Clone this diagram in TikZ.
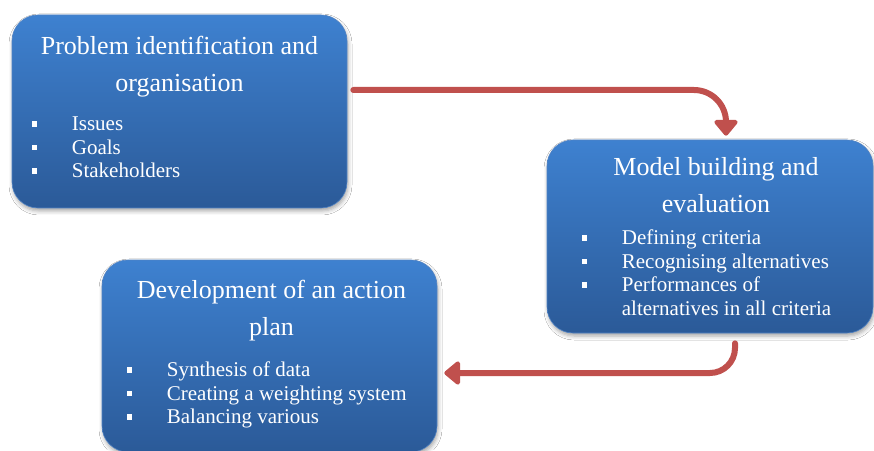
\documentclass[tikz,border=0pt]{standalone}
\usepackage{fontspec}
\setmainfont{Liberation Serif}
\usepackage{tikz}
\usetikzlibrary{arrows.meta, positioning, shadows.blur}

\definecolor{boxtop}{RGB}{62,129,208}
\definecolor{boxbottom}{RGB}{43,90,152}
\definecolor{boxedge}{RGB}{80,130,195}
\definecolor{flowred}{RGB}{192,80,77}

\newcommand{\sqbullet}{\raisebox{4pt}{\rule{5.5pt}{5.5pt}}}

\begin{document}
\begin{tikzpicture}[
        x=1pt, y=1pt,
        stage/.style={rectangle, rounded corners=26pt, draw=boxedge, line width=0.6pt, top color=boxtop, bottom color=boxbottom, minimum height=193pt, blur shadow={shadow xshift=1pt, shadow yshift=-3pt, shadow blur radius=4pt, shadow opacity=35}},
        title/.style={text=white, align=center, inner sep=0pt, font=\fontsize{26}{37}\selectfont},
        items/.style={text=white, inner sep=0pt, anchor=base west, font=\fontsize{21}{23.5}\selectfont},
        flow/.style={draw=flowred, line width=6pt, line cap=round, -{Triangle[width=27pt, length=17pt, round]}}
    ]
    \path[use as bounding box, fill=white] (0,0) rectangle (874,450);

    \node[stage, minimum width=335pt] (prob) at (179.5,338.5) {};
    \node[stage, minimum width=326pt] (model) at (710,213.5) {};
    \node[stage, minimum width=335pt, minimum height=192pt] (plan) at (269.5,94) {};

    \node[title, below=21pt of prob.north] (probT) {Problem identification and\\organisation};
    \node[items] (probL) at ([shift={(20,-116)}]prob.north west) {\begin{tabular}[t]{@{}p{40pt}@{}l@{}}
        \sqbullet & Issues\\
        \sqbullet & Goals\\
        \sqbullet & Stakeholders
    \end{tabular}};

    \node[title, below=18pt of model.north, xshift=6pt] (modelT) {Model building and\\evaluation};
    \node[items] (modelL) at ([shift={(35,-105)}]model.north west) {\begin{tabular}[t]{@{}p{40pt}@{}l@{}}
        \sqbullet & Defining criteria\\
        \sqbullet & Recognising alternatives\\
        \sqbullet & Performances of\\
                  & alternatives in all criteria
    \end{tabular}};

    \node[title, below=20pt of plan.north, xshift=2pt] (planT) {Development of an action\\plan};
    \node[items] (planL) at ([shift={(25,-117)}]plan.north west) {\begin{tabular}[t]{@{}p{40pt}@{}l@{}}
        \sqbullet & Synthesis of data\\
        \sqbullet & Creating a weighting system\\
        \sqbullet & Balancing various
    \end{tabular}};

    \draw[flow, rounded corners=32pt] ([xshift=6pt, yshift=21.5pt]prob.east) -| ([xshift=16pt, yshift=4pt]model.north);
    \draw[flow, rounded corners=25pt] ([xshift=25pt, yshift=-10pt]model.south) |- ([xshift=7pt, yshift=-17pt]plan.east);

\end{tikzpicture}
\end{document}
